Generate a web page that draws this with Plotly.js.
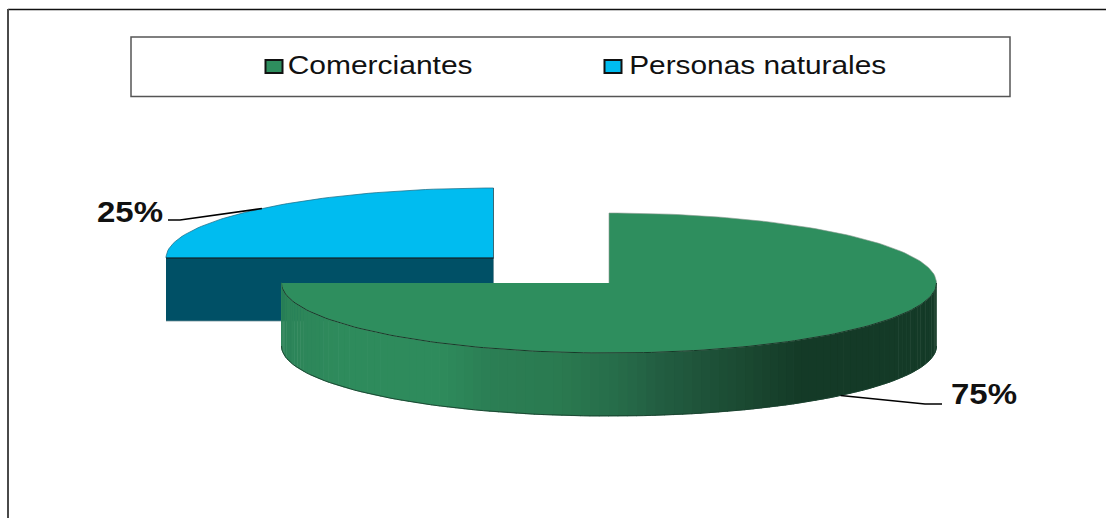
<!DOCTYPE html>
<html>
<head>
<meta charset="utf-8">
<script src="https://cdn.plot.ly/plotly-3.0.1.min.js"></script>
<style>html,body{margin:0;padding:0;background:#fff}#chart{width:1106px;height:518px}</style>
</head>
<body>
<div id="chart"></div>
<script>
const categories = ["Comerciantes", "Personas naturales"];
const values = [75, 25];
const topColors = ["#2e8e5e", "#00bcf0"];
const wallColors = ["#2e8b5c", "#005066"];
const shadeStops = [[282,"#2c8358"],[340,"#2e8b5c"],[440,"#2e8b5c"],[490,"#2b7e54"],[560,"#2a7a50"],[620,"#266b49"],[660,"#225d41"],[740,"#1b4a32"],[800,"#143a27"],[937,"#143a27"]];

const W = 1106, H = 518;
const rx = 327.5, ry = 70, depth = 63;
const centers = [[609, 283], [493.5, 258]];
const total = values.reduce((a, b) => a + b, 0);

function pt(c, deg, dy) {
  const t = deg * Math.PI / 180;
  return [c[0] + rx * Math.sin(t), c[1] - ry * Math.cos(t) + (dy || 0)];
}
function arc(c, a, b, dy) {
  const out = [], n = Math.max(2, Math.ceil(Math.abs(b - a) / 1.5));
  for (let i = 0; i <= n; i++) out.push(pt(c, a + (b - a) * i / n, dy));
  return out;
}
function hex(h) { return [1, 3, 5].map(i => parseInt(h.substr(i, 2), 16)); }
function shade(x) {
  for (let i = 0; i < shadeStops.length - 1; i++) {
    const [x0, c0] = shadeStops[i], [x1, c1] = shadeStops[i + 1];
    if (x <= x1) {
      const f = Math.max(0, (x - x0) / (x1 - x0)), a = hex(c0), b = hex(c1);
      return "rgb(" + a.map((v, k) => Math.round(v + (b[k] - v) * f)).join(",") + ")";
    }
  }
  return shadeStops[shadeStops.length - 1][1];
}
function poly(points, fill, line, lw) {
  return {type: "scatter", mode: lw ? "lines" : "none", x: points.map(p => p[0]), y: points.map(p => p[1]),
    fill: "toself", fillcolor: fill, line: {color: line || fill, width: lw || 0}, hoverinfo: "skip", showlegend: false};
}
function stroke(points, color, width) {
  return {type: "scatter", mode: "lines", x: points.map(p => p[0]), y: points.map(p => p[1]),
    line: {color: color, width: width}, hoverinfo: "skip", showlegend: false};
}

// slice angles, clockwise from 12 o'clock
const spans = [];
let acc = 0;
values.forEach(v => { spans.push([acc, acc + v / total * 360]); acc += v / total * 360; });

const traces = [];

// back slice (Personas naturales), drawn first
{
  const c = centers[1], [a, b] = spans[1];
  const left = pt(c, a), apex = [c[0], c[1]];
  traces.push(poly([left, apex, [apex[0], apex[1] + depth], [left[0], left[1] + depth]], wallColors[1], "#6d8d96", 0.75));
  traces.push(poly([apex].concat(arc(c, a, b)), topColors[1], "#1d6f88", 0.75));
  traces.push(stroke([left, apex], "#04202a", 1.25));
  traces.push(stroke([pt(c, b), apex, [apex[0], apex[1]]], "#23404a", 0.75));
}

// front slice (Comerciantes)
{
  const c = centers[0], [a, b] = spans[0];
  const bands = 110, start = 90, end = b;
  for (let i = 0; i < bands; i++) {
    const t0 = start + (end - start) * i / bands, t1 = start + (end - start) * (i + 1) / bands + 0.15;
    const p0 = pt(c, t0), p1 = pt(c, t1);
    const col = shade((p0[0] + p1[0]) / 2);
    traces.push(poly([p0, p1, pt(c, t1, depth), pt(c, t0, depth)], col, col, 0.6));
  }
  traces.push(stroke(arc(c, start, end, depth), "#17402c", 0.9));
  traces.push(poly([[c[0], c[1]]].concat(arc(c, a, b)), topColors[0], "#8a9a90", 0.6));
  traces.push(stroke(arc(c, start, end), "#143a27", 1));
  traces.push(stroke([pt(c, end), pt(c, end, depth)], "#2c8358", 0.8));
}

// leader lines start at each slice's mid-angle on its rim
const midFront = pt(centers[0], (spans[0][0] + spans[0][1]) / 2, depth);
const midBack = pt(centers[1], (spans[1][0] + spans[1][1]) / 2);
traces.push(stroke([midFront, [925, 404], [942, 404]], "#000", 1.6));
traces.push(stroke([midBack, [180, 220], [168, 220]], "#000", 1.6));

const font = "Liberation Sans, Arial, sans-serif";
const annotations = [
  {x: 379.5, y: 65, text: categories[0], size: 25, bold: false},
  {x: 757.5, y: 65, text: categories[1], size: 25, bold: false},
  {x: 984, y: 393, text: values[0] + "%", size: 30, bold: true},
  {x: 130, y: 211, text: values[1] + "%", size: 30, bold: true}
].map(a => ({xref: "x", yref: "y", x: a.x, y: a.y, xanchor: "center", yanchor: "middle", showarrow: false,
  text: a.bold ? "<b>" + a.text + "</b>" : a.text, font: {family: font, size: a.size, color: "#111"}}));

const box = (x0, y0, x1, y1, fill, col, w) => ({type: "rect", xref: "x", yref: "y", x0, y0, x1, y1, fillcolor: fill, line: {color: col, width: w}, layer: "below"});
const seg = (x0, y0, x1, y1, col, w) => ({type: "line", xref: "x", yref: "y", x0, y0, x1, y1, line: {color: col, width: w}, layer: "below"});
const shapes = [
  seg(8, 9.5, 1106, 9.5, "#111", 1.5),
  seg(8, 9, 8, 518, "#4a4a4a", 2),
  box(131, 37, 1010, 96.5, "#fff", "#555", 1.5),
  box(265.5, 60, 282.5, 73, topColors[0], "#111", 2),
  box(604.5, 60, 621.5, 73, topColors[1], "#111", 2)
];

const layout = {
  width: W, height: H, margin: {l: 0, r: 0, t: 0, b: 0},
  paper_bgcolor: "#fff", plot_bgcolor: "#fff", showlegend: false, hovermode: false,
  xaxis: {range: [0, W], visible: false, fixedrange: true},
  yaxis: {range: [H, 0], visible: false, fixedrange: true},
  shapes, annotations
};

Plotly.newPlot("chart", traces, layout, {displayModeBar: false, staticPlot: true}).then(() => {
  // the reference's text is stretched horizontally: fit each label to its measured width
  const widths = [185, 257, 66, 66];
  document.querySelectorAll("#chart .annotation-text").forEach((t, i) => {
    t.setAttribute("textLength", widths[i]);
    t.setAttribute("lengthAdjust", "spacingAndGlyphs");
  });
});
</script>
</body>
</html>
